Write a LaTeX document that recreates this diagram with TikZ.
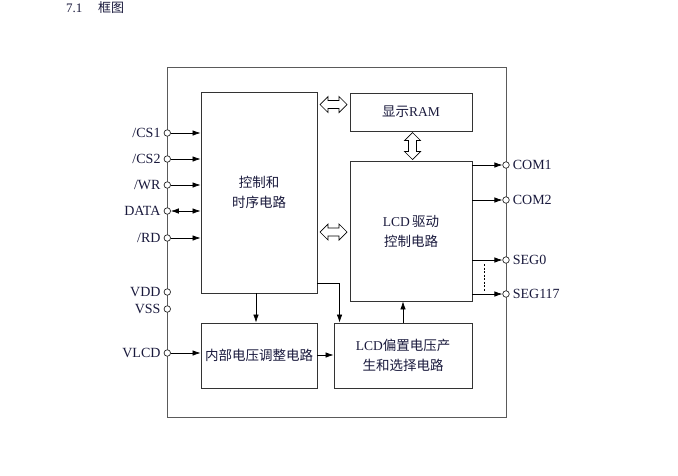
\documentclass[tikz,border=0pt]{standalone}
\usepackage{fontspec}
\setmainfont{Liberation Serif}
\newfontfamily\cjk{Noto Sans CJK SC}
\usetikzlibrary{arrows.meta,calc}
\definecolor{txt}{RGB}{25,25,60}
\definecolor{frame}{RGB}{90,90,90}
\tikzset{
  box/.style={draw=black!80, line width=0.9pt, inner sep=0pt, text=txt, align=center, font=\fontsize{13.5}{20}\selectfont},
  pinc/.style={circle, draw=black!85, fill=white, line width=0.7pt, inner sep=0pt, minimum size=6.5pt},
  plabel/.style={text=txt, font=\fontsize{14}{15}\selectfont, inner sep=0pt},
  sig/.style={line width=0.7pt, -{Latex[length=8pt,width=5.5pt]}},
  sigb/.style={line width=0.7pt, {Latex[length=8pt,width=5.5pt]}-{Latex[length=8pt,width=5.5pt]}},
  hdbl/.pic={\draw[line width=0.7pt, fill=white] (-13.5,0) -- (-5.5,8) -- (-5.5,4) -- (5.5,4) -- (5.5,8) -- (13.5,0) -- (5.5,-8) -- (5.5,-4) -- (-5.5,-4) -- (-5.5,-8) -- cycle;}
}
\begin{document}
\begin{tikzpicture}[x=1pt,y=-1pt]
\useasboundingbox (0,0) rectangle (678,475);
% title
\node[anchor=base west, text=txt, font=\fontsize{13}{14}\selectfont, inner sep=0pt] (title) at (66,12) {7.1\hspace{1.2em}{\cjk 框图}};
% outer frame
\node[draw=frame, line width=1pt, minimum width=339pt, minimum height=350pt, inner sep=0pt] (chip) at (336.5,242.5) {};
% boxes
\node[box, minimum width=116pt, minimum height=201pt] (ctrl) at (259,192.5) {{\cjk 控制和}\\{\cjk 时序电路}};
\node[box, minimum width=122pt, minimum height=38pt] (ram) at (411,112) {{\cjk 显示}RAM};
\node[box, minimum width=122pt, minimum height=140pt] (lcd) at (411,231) {LCD\,{\cjk 驱动}\\{\cjk 控制电路}};
\node[box, minimum width=116pt, minimum height=65pt] (vreg) at (259,355.5) {{\cjk 内部电压调整电路}};
\node[box, minimum width=138pt, minimum height=65pt] (bias) at (403,355.5) {LCD{\cjk 偏置电压产}\\{\cjk 生和选择电路}};
% left pins
\foreach \n/\y/\t in {cs1/133/{/CS1}, cs2/159/{/CS2}, wr/185/{/WR}, data/211/{DATA}, rd/238/{/RD}, vdd/292/{VDD}, vss/309/{VSS}, vlcd/353/{VLCD}}{
  \node[pinc] (\n) at (167.3,\y) {};
  \node[plabel, anchor=east] (\n l) at ([xshift=-3pt]\n.west) {\t};
}
\foreach \n in {cs1,cs2,wr,rd}{ \draw[sig] (\n) -- (\n -| ctrl.west); }
\draw[sigb] (data) -- (data -| ctrl.west);
\draw[sig] (vlcd) -- (vlcd -| vreg.west);
% right pins
\foreach \n/\y/\t in {com1/165/{COM1}, com2/200/{COM2}, seg0/260/{SEG0}, segn/294/{SEG117}}{
  \node[pinc] (\n) at (506,\y) {};
  \node[plabel, anchor=west] (\n l) at ([xshift=3pt]\n.east) {\t};
  \draw[sig] (\n -| lcd.east) -- (\n);
}
\coordinate (dtop) at ($(seg0)+(-22,4)$);
\coordinate (dbot) at ($(segn)+(-22,-2)$);
\draw[line width=0.6pt, dashed, dash pattern=on 2pt off 1.5pt] (dtop) -- (dbot);
% internal connections
\coordinate (cv) at (256,300);
\draw[sig] (ctrl.south -| cv) -- (vreg.north -| cv);
\draw[sig] ([yshift=10pt]ctrl.south east) -| ([xshift=6pt]bias.north west);
\coordinate (vr) at (320,355);
\draw[sig] (vreg.east |- vr) -- (bias.west |- vr);
\draw[sig] (bias.north) -- (lcd.south -| bias.north);
% hollow arrows
\pic at ($(ctrl.east |- 0,104.5)!0.5!(ram.west |- 0,104.5)$) {hdbl};
\pic at ($(lcd.west |- 0,232)!0.5!(ctrl.east |- 0,232)$) {hdbl};
\pic[rotate=90] at ($(ram.south)!0.5!(lcd.north)+(1.5,0)$) {hdbl};
\end{tikzpicture}
\end{document}
